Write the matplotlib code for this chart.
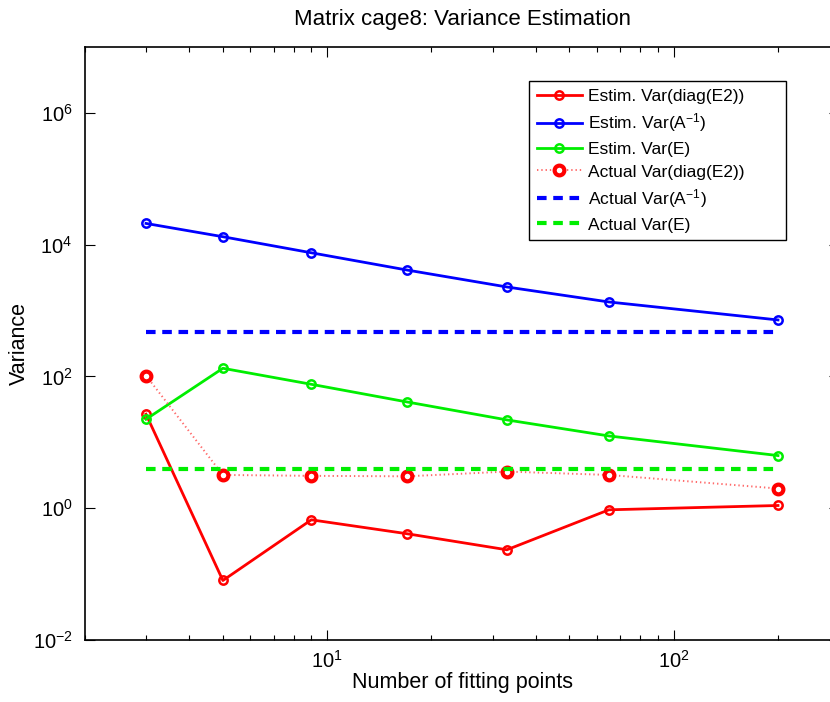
import matplotlib
matplotlib.use("Agg")
import matplotlib.pyplot as plt
from matplotlib.ticker import FixedLocator, NullLocator, LogFormatterSciNotation

plt.rcParams['font.family'] = ['Liberation Sans', 'DejaVu Sans']
plt.rcParams['mathtext.fontset'] = 'custom'
plt.rcParams['mathtext.rm'] = 'Liberation Sans'
plt.rcParams['mathtext.it'] = 'Liberation Sans'
plt.rcParams['mathtext.default'] = 'regular'

# Data
n_points = [3, 5, 9, 17, 33, 65, 200]
estim_var_diag_e2 = [26.7, 0.080, 0.667, 0.41, 0.234, 0.946, 1.10]
estim_var_ainv = [21000, 13200, 7530, 4120, 2280, 1350, 720]
estim_var_e = [22.4, 133, 76, 41, 21.9, 12.5, 6.3]
actual_var_diag_e2 = [103, 3.2, 3.1, 3.05, 3.6, 3.2, 1.99]
actual_var_ainv = 473
actual_var_e = 4.0

y_ticks = [1e-2, 1e0, 1e2, 1e4, 1e6]
x_ticks = [10, 100]
x_minor_ticks = [2, 3, 4, 5, 6, 7, 8, 9, 20, 30, 40, 50, 60, 70, 80, 90, 200, 300]

title = "Matrix cage8: Variance Estimation"
xlabel = "Number of fitting points"
ylabel = "Variance"
labels = ["Estim. Var(diag(E2))", "Estim. Var(A$^{-1}$)", "Estim. Var(E)",
          "Actual Var(diag(E2))", "Actual Var(A$^{-1}$)", "Actual Var(E)"]

W, H = 830, 702
fig = plt.figure(figsize=(W / 100, H / 100), dpi=100)
left, right, top, bottom = 85, 839, 47, 640
ax = fig.add_axes([left / W, 1 - bottom / H, (right - left) / W, (bottom - top) / H])

ax.plot(n_points, estim_var_diag_e2, '-o', color='#ff0000', lw=2, ms=6,
        mfc='none', mew=1.8, label=labels[0])
ax.plot(n_points, estim_var_ainv, '-o', color='#0000ff', lw=2, ms=6,
        mfc='none', mew=1.8, label=labels[1])
ax.plot(n_points, estim_var_e, '-o', color='#00ee00', lw=2, ms=6,
        mfc='none', mew=1.8, label=labels[2])
ax.plot(n_points, actual_var_diag_e2, linestyle=(0, (0.7, 1.5)), marker='o',
        color='#ff6a6a', lw=1.4, ms=7, mfc='white', mec='#ff0000', mew=3,
        label=labels[3])
ax.plot([n_points[0], n_points[-1]], [actual_var_ainv] * 2, linestyle=(0, (2.3, 1.6)),
        color='#0000ff', lw=3, label=labels[4])
ax.plot([n_points[0], n_points[-1]], [actual_var_e] * 2, linestyle=(0, (2.3, 1.6)),
        color='#00ee00', lw=3, label=labels[5])

ax.set_xscale('log')
ax.set_yscale('log')
ax.set_xlim(2, 300)
ax.set_ylim(1e-2, 1e7)

ax.yaxis.set_major_locator(FixedLocator(y_ticks))
ax.yaxis.set_minor_locator(NullLocator())
ax.yaxis.set_major_formatter(LogFormatterSciNotation(base=10))
ax.xaxis.set_major_locator(FixedLocator(x_ticks))
ax.xaxis.set_major_formatter(LogFormatterSciNotation(base=10))
ax.xaxis.set_minor_locator(FixedLocator(x_minor_ticks))
ax.xaxis.set_minor_formatter(plt.NullFormatter())

ax.tick_params(which='both', direction='in', top=True, right=True, labelsize=14.5)
ax.tick_params(axis='y', pad=9)
ax.tick_params(axis='x', pad=7)
ax.tick_params(which='major', length=7, width=0.8)
ax.tick_params(which='minor', length=3.5, width=0.8)
for s in ax.spines.values():
    s.set_linewidth(1.2)

ax.set_title(title, fontsize=16, pad=16)
ax.set_xlabel(xlabel, fontsize=15.5, labelpad=0)
ax.set_ylabel(ylabel, fontsize=15.5, labelpad=2)

# legend box in pixel coords -> axes fraction
lx0, lx1, ly0 = 529, 786, 81
x0 = (lx0 - left) / (right - left)
w = (lx1 - lx0) / (right - left)
ytop = (bottom - ly0) / (bottom - top)
leg = ax.legend(loc='upper left', bbox_to_anchor=(x0, ytop - 0.3, w, 0.3), mode='expand',
                fontsize=12.5, frameon=True, fancybox=False, edgecolor='black',
                framealpha=1, handlelength=2.6, handletextpad=0.35, borderpad=0.45,
                labelspacing=0.43, borderaxespad=0)
leg.get_frame().set_linewidth(1.0)

fig.savefig("out.png", dpi=100)
